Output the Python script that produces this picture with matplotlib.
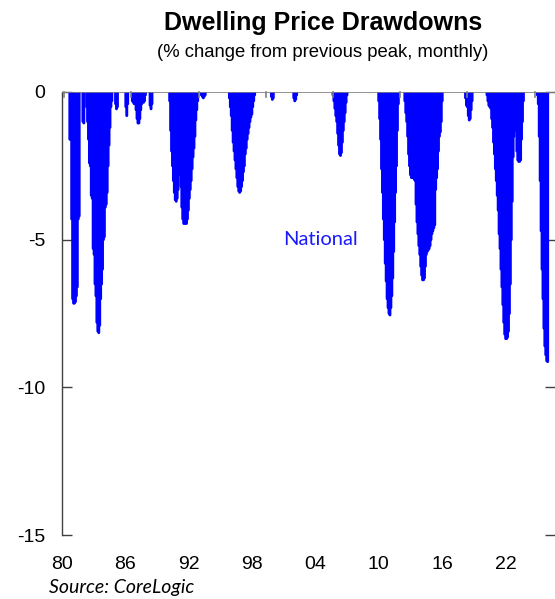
import numpy as np
import pandas as pd
import matplotlib
matplotlib.use('Agg')
import matplotlib.pyplot as plt

# drawdown episodes: (first month, monthly % below previous peak)
ep_1980 = ('1980-07', [-1.6, -1.6, -4.3, -7.0, -7.15, -7.15, -7.1, -6.9, -6.6, -4.3, -4.2])
ep_1981 = ('1981-09', [-1.0, -1.05])
ep_1982 = ('1982-01', [-0.5, -1.0, -1.6, -2.4, -2.5, -3.5, -3.6, -5.3, -5.5, -6.5, -6.9, -7.8, -8.1, -8.15,
                       -7.9, -7.0, -6.5, -6.0, -5.0, -4.9, -3.9, -3.8, -3.4, -2.5, -1.8, -1.2, -0.5, -0.3])
ep_1984 = ('1984-08', [-0.4, -0.57, -0.5])
ep_1985 = ('1985-07', [-0.5, -0.8, -0.4])
ep_1986 = ('1986-02', [-0.3, -0.35, -0.4, -0.35, -0.6, -0.9, -1.05, -1.05, -0.9, -0.6, -0.4, -0.3, -0.35, -0.3, -0.1])
ep_1987 = ('1987-09', [-0.45, -0.57, -0.4])
ep_1989 = ('1989-06', [-0.3, -1.3, -2.0, -2.5, -3.0, -3.4, -3.65, -3.7, -3.6, -3.3, -2.8, -2.7, -3.2, -3.9, -4.3,
                       -4.45, -4.45, -4.45, -4.45, -4.3, -4.0, -3.6, -3.3, -3.0, -2.6, -2.2, -1.9, -1.5, -0.95, -0.6, -0.3])
ep_1992 = ('1992-04', [-0.1, -0.15, -0.2, -0.15, -0.1])
ep_1994 = ('1994-10', [-0.2, -0.5, -0.8, -1.3, -1.7, -2.0, -2.3, -2.6, -2.9, -3.2, -3.35, -3.4, -3.35, -3.2,
                       -3.0, -2.7, -2.5, -2.1, -1.9, -1.6, -1.4, -1.2, -1.0, -0.85, -0.75, -0.5, -0.3, -0.1])
ep_1998 = ('1998-07', [-0.15, -0.25, -0.2])
ep_2000 = ('2000-07', [-0.2, -0.3, -0.25, -0.1])
ep_2004 = ('2004-01', [-0.1, -0.3, -0.55, -0.8, -1.0, -1.4, -1.8, -2.1, -2.15, -2.05, -1.7, -1.3, -1.0, -0.7, -0.35, -0.1])
ep_2008 = ('2008-02', [-0.3, -0.9, -1.6, -2.6, -3.4, -4.3, -5.0, -5.8, -6.4, -7.0, -7.3, -7.5, -7.55, -7.3,
                       -6.9, -6.3, -5.4, -4.4, -3.4, -2.5, -1.3, -0.4])
ep_2010 = ('2010-06', [-0.3, -0.7, -1.0, -1.5, -2.1, -2.5, -2.8, -2.9, -2.9, -2.9, -2.95, -3.0, -3.8, -4.4, -4.8,
                       -5.2, -5.5, -5.9, -6.2, -6.36, -6.36, -6.3, -5.9, -5.5, -5.4, -5.35, -5.3, -5.2, -5.0, -4.8,
                       -4.7, -4.6, -4.5, -3.3, -2.9, -2.6, -2.0, -1.5, -1.35, -1.0, -0.3])
ep_2015 = ('2015-11', [-0.2, -0.45, -0.5, -0.8, -0.95, -0.9, -0.6, -0.3])
ep_2017 = ('2017-10', [-0.1, -0.3, -0.45, -0.5, -0.55, -0.9, -1.2, -1.7, -2.1, -2.6, -3.0, -3.5, -4.0, -4.8,
                       -5.3, -6.0, -6.6, -7.2, -7.8, -8.2, -8.35, -8.35, -8.3, -8.1, -7.5, -6.5, -5.0, -3.7,
                       -2.2, -1.5, -1.2, -1.3, -2.0, -2.3, -2.35, -2.35, -2.3, -1.6, -1.0, -0.3])
ep_2022 = ('2022-04', [-0.1, -0.4, -1.5, -3.0, -4.7, -6.0, -7.0, -8.0, -8.6, -8.9, -9.1, -9.13])

episodes = [ep_1980, ep_1981, ep_1982, ep_1984, ep_1985, ep_1986, ep_1987, ep_1989, ep_1992,
            ep_1994, ep_1998, ep_2000, ep_2004, ep_2008, ep_2010, ep_2015, ep_2017, ep_2022]

year_ticks = [1980, 1986, 1992, 1998, 2004, 2010, 2016, 2022]
year_labels = ['80', '86', '92', '98', '04', '10', '16', '22']

# monthly series, zero when at a peak
months = pd.period_range('1980-01', '2023-03', freq='M')
drawdown = pd.Series(0.0, index=months)
for start, vals in episodes:
    idx = pd.period_range(start, periods=len(vals), freq='M')
    drawdown[idx] = vals
t = months.year + (months.month - 1) / 12.0

fig = plt.figure(figsize=(5.55, 5.99), dpi=100)
ax = fig.add_axes([62 / 555, 1 - 535 / 599, 493 / 555, 443 / 599])

lc = ax.vlines(t, 0, drawdown.values, colors='#0000ff', linewidth=2.1)
lc.set_capstyle('round')
lc.set_snap(False)

ax.set_xlim(1980, 1980 + 493 / 11.25)
ax.set_ylim(-15, 0)

# zero line along the top with the year ticks hanging from it
ax.axhline(0, color='#808080', lw=1.2, zorder=3)
for yr in year_ticks:
    ax.plot([yr, yr], [0, -0.17], color='#808080', lw=1.2, zorder=3, clip_on=False)

for s in ['top', 'right', 'bottom']:
    ax.spines[s].set_visible(False)
ax.spines['left'].set_color('#404040')
ax.spines['left'].set_linewidth(1.0)

ax.set_yticks([0, -5, -10, -15])
ax.set_yticklabels(['0', '-5', '-10', '-15'])
ax.tick_params(axis='y', direction='in', length=7, color='#404040', width=1.0,
               labelsize=14, pad=12, right=True)
for lab in ax.get_yticklabels():
    lab.set_family('Liberation Sans')

# x labels sit slightly left of the year ticks in the original
label_pos = np.linspace(1979.8, 2019.4, len(year_labels))
ax.set_xticks(label_pos)
ax.set_xticklabels(year_labels, family='Liberation Sans', fontsize=14)
ax.tick_params(axis='x', length=0, pad=15)

fig.text(0.582, 0.962, 'Dwelling Price Drawdowns', ha='center', va='center',
         fontsize=18, fontweight='bold', family='Liberation Sans')
fig.text(0.582, 0.913, '(% change from previous peak, monthly)', ha='center', va='center',
         fontsize=13.3, family='Liberation Sans')
ax.text(2002.9, -5.0, 'National', color='#1a1aff', fontsize=14.5, family='Lato',
        ha='center', va='center')
fig.text(49 / 555, 1 - 588 / 599, 'Source: CoreLogic', fontsize=14, style='italic',
         family='Lato', ha='left', va='center')

fig.savefig('out.png', dpi=100)
